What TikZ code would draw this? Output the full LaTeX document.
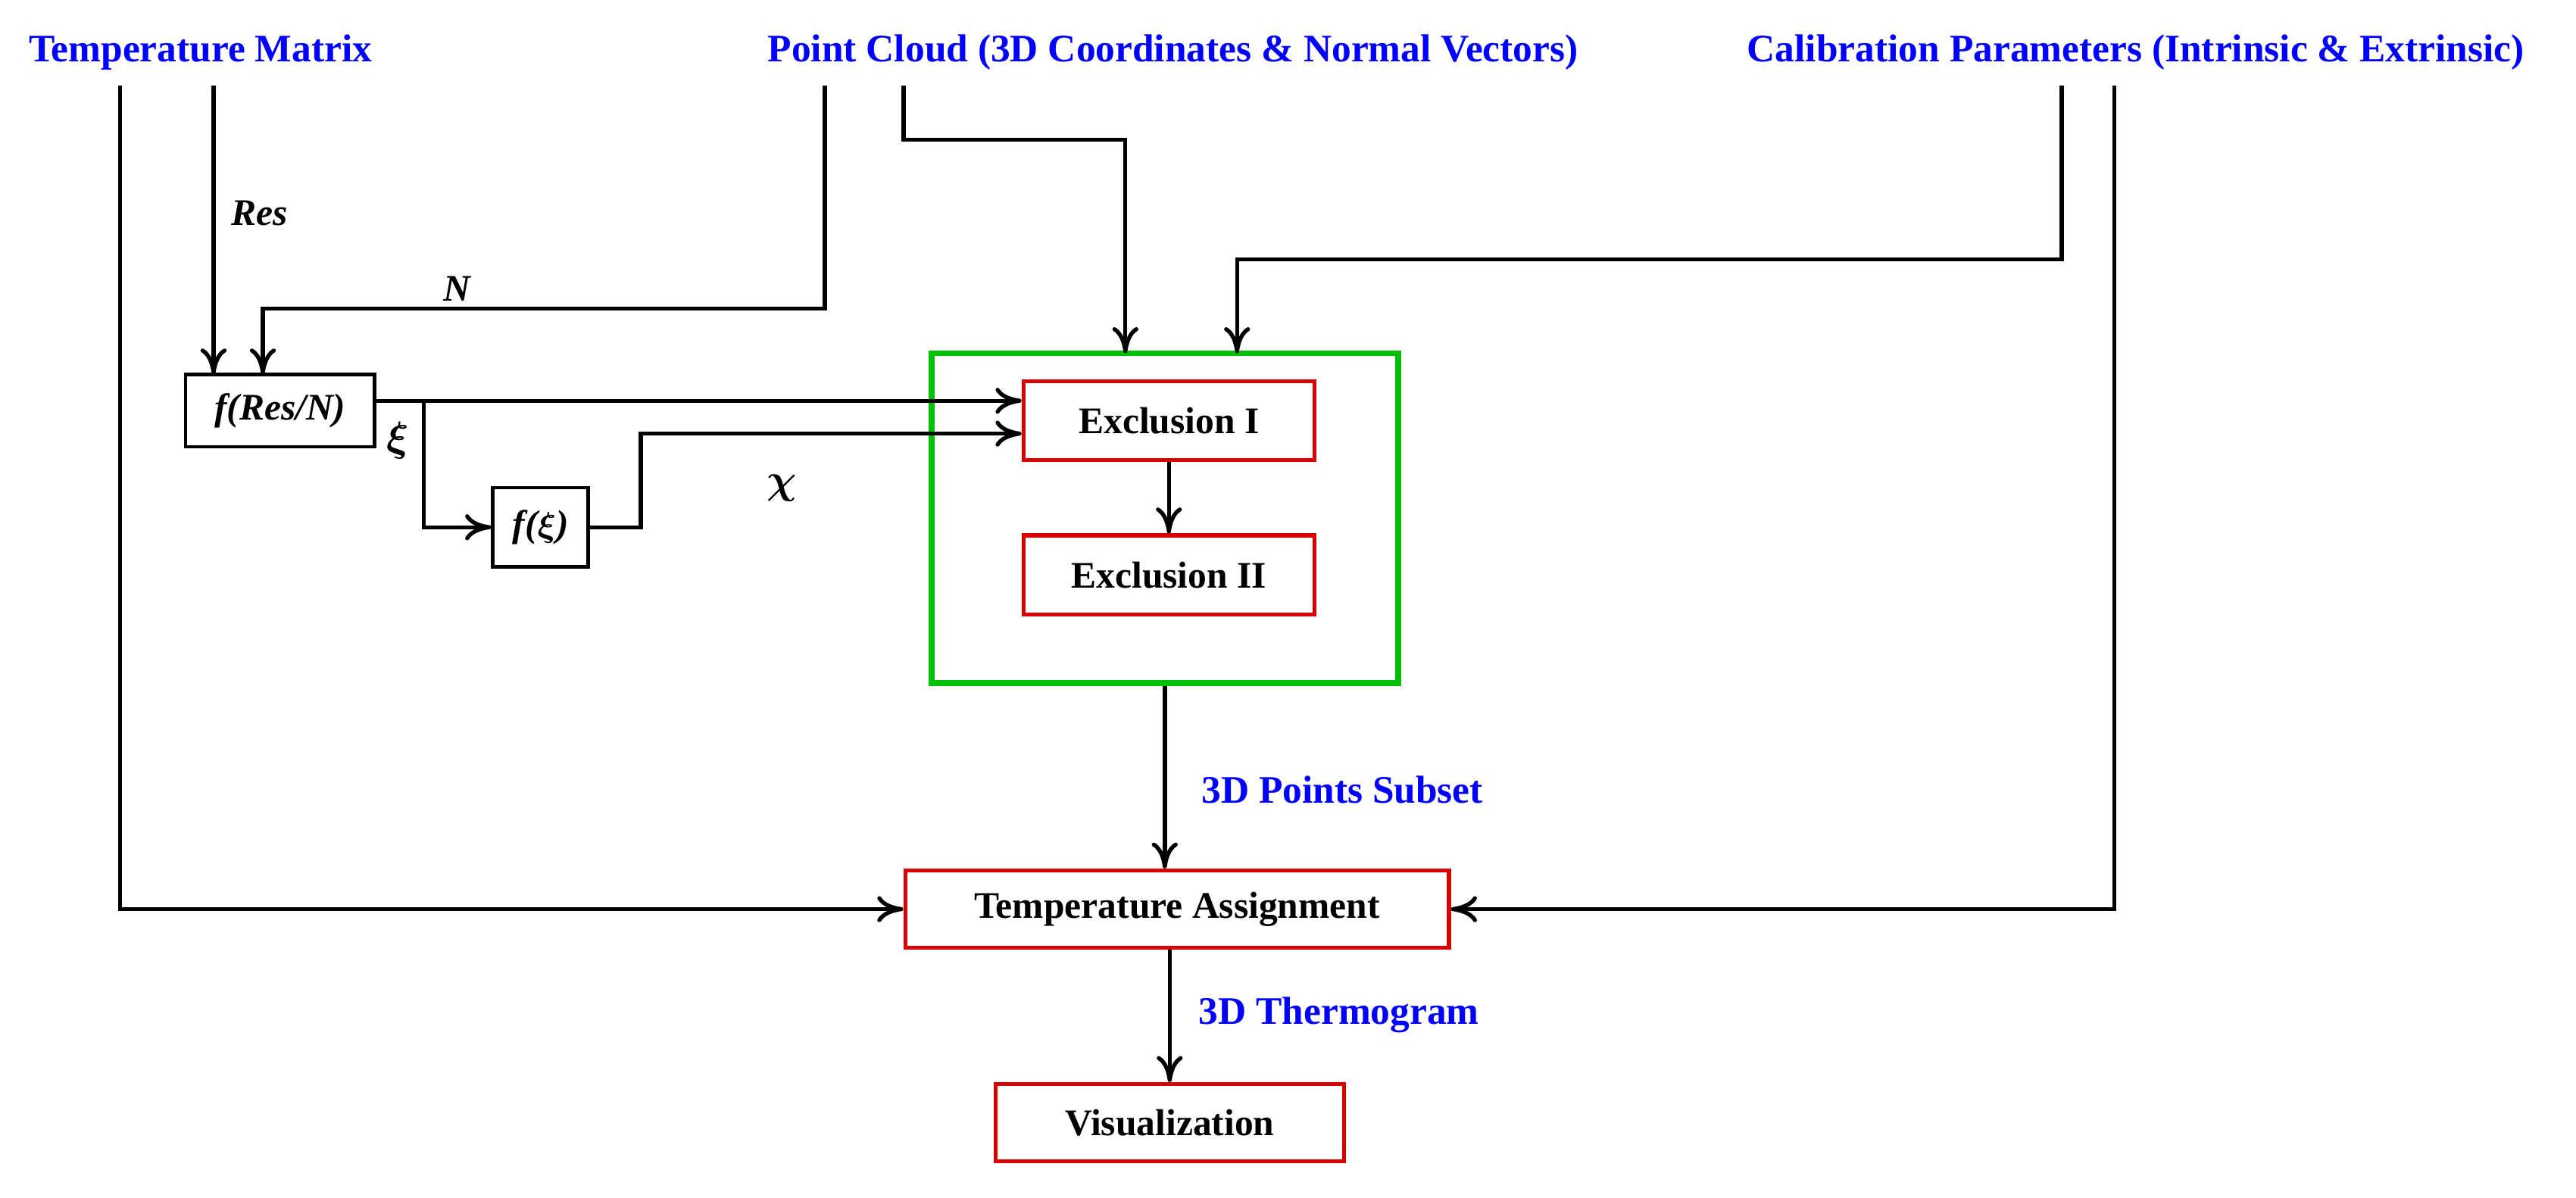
\documentclass[tikz,border=0pt]{standalone}
\usepackage{amsmath}
\usepackage{fontspec}
\setmainfont{Liberation Serif}
\usetikzlibrary{arrows.meta}
\begin{document}
\begin{tikzpicture}[x=0.02cm,y=-0.02cm,
  ln/.style={line width=1.4pt},
  ar/.style={ln,-{To[length=9pt,width=9pt,line width=1.4pt]}},
  rbox/.style={draw=red!85!black,line width=1.4pt,inner sep=0pt,font=\fontsize{13}{15}\selectfont\bfseries},
  kbox/.style={draw=black,line width=1.2pt,inner sep=0pt,font=\fontsize{13}{15}\selectfont\bfseries\itshape},
  blab/.style={text=blue,font=\fontsize{13.5}{16}\selectfont\bfseries},
  ilab/.style={font=\fontsize{13}{15}\selectfont\bfseries\itshape}]
\useasboundingbox (0,0) rectangle (1568,729);
\node[blab] (tm) at (122,32) {Temperature Matrix};
\node[blab] (pc) at (714,32) {Point Cloud (3D Coordinates \& Normal Vectors)};
\node[blab] (cp) at (1300,32) {Calibration Parameters (Intrinsic \& Extrinsic)};
\node[kbox,minimum width=2.3cm,minimum height=0.88cm] (fr) at (170.5,250) {f(Res/N)};
\node[kbox,minimum width=1.16cm,minimum height=0.96cm] (fx) at (329,321) {f($\boldsymbol{\xi}$)};
\node[draw=green!75!black,line width=2pt,minimum width=5.68cm,minimum height=4.02cm] (gb) at (709,315.5) {};
\node[rbox,minimum width=3.54cm,minimum height=0.96cm] (e1) at (711.5,256) {Exclusion I};
\node[rbox,minimum width=3.54cm,minimum height=0.96cm] (e2) at (711.5,350) {Exclusion II};
\node[rbox,minimum width=6.62cm,minimum height=0.94cm] (ta) at (716.5,553.5) {Temperature Assignment};
\node[rbox,minimum width=4.24cm,minimum height=0.94cm] (vi) at (712,683.5) {Visualization};
\coordinate (t1) at (73,52); \coordinate (t2) at (130,52);
\coordinate (p1) at (502,52); \coordinate (p2) at (550,52);
\coordinate (c1) at (1255,52); \coordinate (c2) at (1287,52);
\draw[ar] (t1) |- (ta.west);
\draw[ar] (t2) -- (130,228) coordinate (fa);
\draw[ar] (p1) -- (502,188) -- (160,188) -- (160,228);
\draw[ar] (p2) -- (550,85) -- (685,85) -- (685,215);
\draw[ar] (c1) -- (1255,158) -- (753,158) -- (753,215);
\draw[ar] (c2) |- (ta.east);
\draw[ar] (fr.east |- 0,244) -- (e1.west |- 0,244);
\draw[ar] (258,244) -- (258,321) -- (fx.west);
\draw[ar] (fx.east) -- (390,321) -- (390,264) -- (e1.west |- 0,264);
\draw[ar] (e1.south) -- (e2.north);
\draw[ar] (gb.south) -- (ta.north -| gb.south);
\draw[ar] (ta.south -| vi.north) -- (vi.north);
\node[ilab] at (158,130) {Res};
\node[ilab] at (278,176) {N};
\node[font=\fontsize{14}{16}\selectfont] at (242,268) {$\boldsymbol{\xi}$};
\node[font=\fontsize{14}{16}\selectfont] at (476,297) {$\boldsymbol{\chi}$};
\node[blab] at (817,481) {3D Points Subset};
\node[blab] at (815,618) {3D Thermogram};
\end{tikzpicture}
\end{document}
